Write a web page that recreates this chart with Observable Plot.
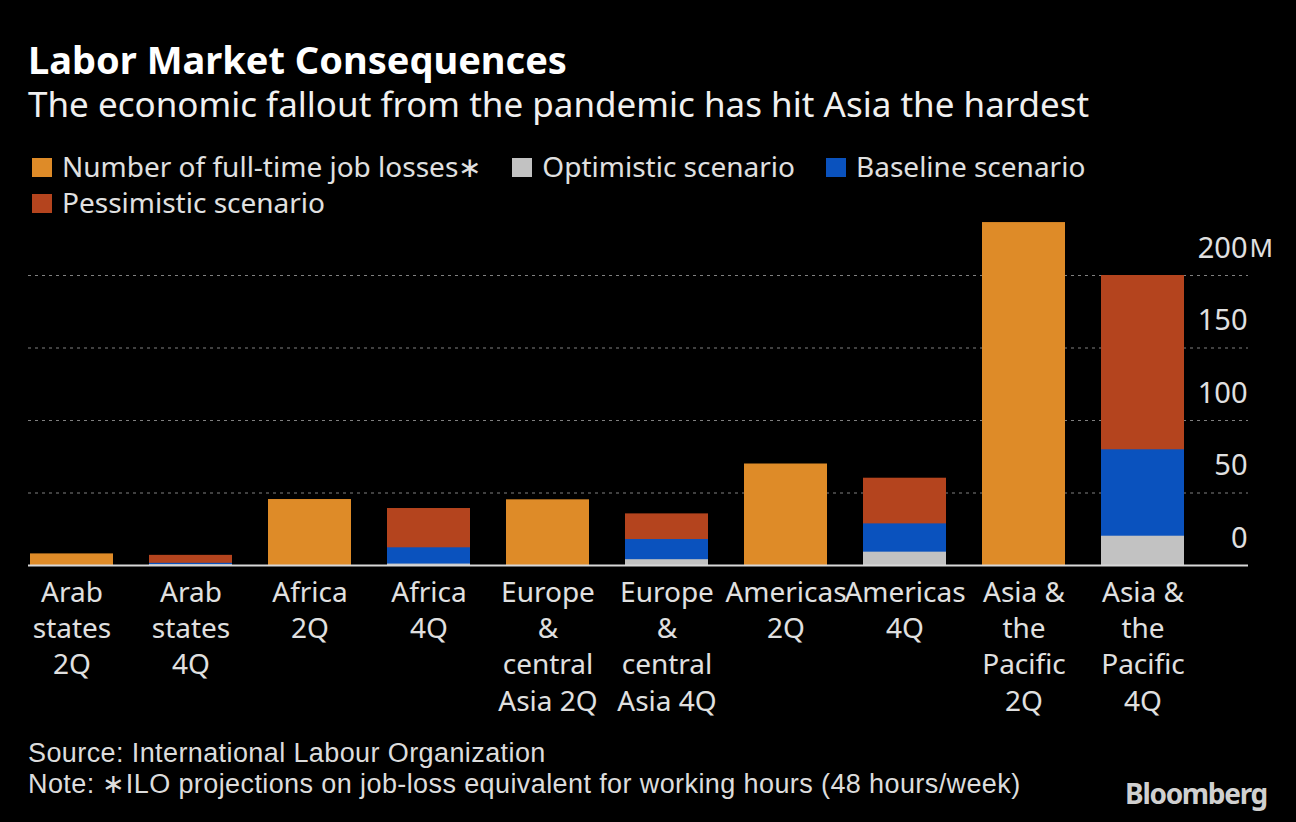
<!DOCTYPE html>
<html>
<head>
<meta charset="utf-8">
<script src="https://cdn.jsdelivr.net/npm/d3@7"></script>
<script src="https://cdn.jsdelivr.net/npm/@observablehq/plot@0.6"></script>
<style>
  html, body { margin: 0; padding: 0; background: #000; }
  body { width: 1296px; height: 822px; position: relative; overflow: hidden; font-family: "Noto Sans", sans-serif; color: #e6e6e6; }
  .abs { position: absolute; white-space: nowrap; }
  #title { left: 28px; top: 37px; font-size: 38px; line-height: 44px; font-weight: 700; color: #fff; }
  #subtitle { left: 28px; top: 84px; font-size: 35px; line-height: 40px; color: #f0f0f0; }
  #legend { left: 32px; top: 148px; width: 1220px; font-size: 28px; line-height: 36px; color: #e0e0e0; white-space: normal; }
  .item { display: inline-block; margin-right: 31px; white-space: nowrap; }
  .sw { display: inline-block; width: 20px; height: 19px; margin-right: 10px; }
  #chart { left: 0; top: 215px; }
  #footer { left: 28px; top: 738px; font-family: "Liberation Sans", sans-serif; font-size: 27px; line-height: 31px; letter-spacing: 0.4px; color: #dcdcdc; }
  #logo { right: 29px; top: 779px; font-size: 28px; line-height: 28px; font-weight: 700; letter-spacing: -1.3px; color: #d0d0d0; }
</style>
</head>
<body>
<div id="title" class="abs">Labor Market Consequences</div>
<div id="subtitle" class="abs">The economic fallout from the pandemic has hit Asia the hardest</div>
<div id="legend" class="abs"></div>
<div id="chart" class="abs"></div>
<div id="footer" class="abs">Source: International Labour Organization<br>Note: ∗ILO projections on job-loss equivalent for working hours (48 hours/week)</div>
<div id="logo" class="abs">Bloomberg</div>
<script>
// ---- data ----
const categories = ["Arab states 2Q","Arab states 4Q","Africa 2Q","Africa 4Q","Europe & central Asia 2Q","Europe & central Asia 4Q","Americas 2Q","Americas 4Q","Asia & the Pacific 2Q","Asia & the Pacific 4Q"];
const tickLabels = ["Arab\nstates\n2Q","Arab\nstates\n4Q","Africa\n2Q","Africa\n4Q","Europe\n&\ncentral\nAsia 2Q","Europe\n&\ncentral\nAsia 4Q","Americas\n2Q","Americas\n4Q","Asia &\nthe\nPacific\n2Q","Asia &\nthe\nPacific\n4Q"];
const fullTimeLosses = [8, null, 45.5, null, 45.3, null, 70, null, 236.5, null];
const pessimistic = [null, 7, null, 39.3, null, 35.6, null, 60.2, null, 200];
const baseline = [null, 1.5, null, 12.2, null, 17.9, null, 28.7, null, 79.8];
const optimistic = [null, 0.6, null, 1, null, 4, null, 9.2, null, 20.2];
const yTicks = [0, 50, 100, 150, 200];
const yUnit = "M";
const seriesNames = ["Number of full-time job losses∗", "Optimistic scenario", "Baseline scenario", "Pessimistic scenario"];
const seriesColors = ["#de8b28", "#c2c2c2", "#0a52be", "#b4441e"];

// ---- legend ----
const legend = document.getElementById("legend");
seriesNames.forEach((n, i) => {
  const s = document.createElement("span");
  s.className = "item";
  s.innerHTML = `<span class="sw" style="background:${seriesColors[i]}"></span>${n}`;
  legend.appendChild(s);
});

// ---- table ----
const rows = (vals) => categories.map((c, i) => ({cat: c, v: vals[i]})).filter(d => d.v != null);
const labelOf = new Map(categories.map((c, i) => [c, tickLabels[i]]));
const yMax = d3.max(yTicks);

const chart = Plot.plot({
  width: 1296,
  height: 510,
  marginLeft: 28,
  marginRight: 48,
  marginTop: 0,
  marginBottom: 160,
  style: {background: "#000", color: "#dcdcdc", fontFamily: "Noto Sans, sans-serif"},
  x: {type: "band", domain: categories, range: [28, 1185], paddingInner: 0.305, paddingOuter: 0, axis: null},
  y: {domain: [0, 200], range: [350, 60], axis: null},
  marks: [
    Plot.ruleY(yTicks.filter(d => d > 0), {stroke: "#808080", strokeDasharray: "3,4", strokeWidth: 1.2}),
    Plot.barY(rows(fullTimeLosses), {x: "cat", y: "v", fill: seriesColors[0]}),
    Plot.barY(rows(pessimistic), {x: "cat", y: "v", fill: seriesColors[3]}),
    Plot.barY(rows(baseline), {x: "cat", y: "v", fill: seriesColors[2]}),
    Plot.barY(rows(optimistic), {x: "cat", y: "v", fill: seriesColors[1]}),
    Plot.ruleY([0], {stroke: "#d8d8d8", strokeWidth: 2}),
    Plot.text(yTicks, {y: d => d, text: d => String(d), frameAnchor: "right", textAnchor: "end", lineAnchor: "middle", dy: -27, dx: -1, fontSize: 29, fill: "#e0e0e0"}),
    Plot.text([yMax], {y: d => d, text: () => yUnit, frameAnchor: "right", textAnchor: "start", lineAnchor: "middle", dy: -27, dx: 1, fontSize: 26, fill: "#e0e0e0"}),
    Plot.axisX({tickSize: 0, tickPadding: 11, fontSize: 28, lineHeight: 1.29, label: null, tickFormat: d => labelOf.get(d), fill: "#e0e0e0"})
  ]
});
document.getElementById("chart").appendChild(chart);
</script>
</body>
</html>
